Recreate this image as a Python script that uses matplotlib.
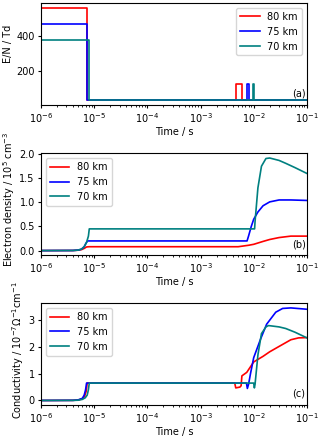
import matplotlib
matplotlib.use("Agg")
import matplotlib.pyplot as plt

plt.rcParams["font.size"] = 7
plt.rcParams["xtick.major.size"] = 2.5
plt.rcParams["ytick.major.size"] = 2.5
plt.rcParams["xtick.minor.size"] = 1.5
plt.rcParams["xtick.major.pad"] = 2
plt.rcParams["ytick.major.pad"] = 2

labels = ["80 km", "75 km", "70 km"]
colors = ["red", "blue", "teal"]

# (a) reduced field E/N, Td
en_t = [
    [1e-6, 7.4e-6, 7.4e-6, 4.6e-3, 4.6e-3, 6.0e-3, 6.0e-3, 1e-1],
    [1e-6, 7.2e-6, 7.2e-6, 7.35e-3, 7.35e-3, 8.2e-3, 8.2e-3, 1e-1],
    [1e-6, 8.0e-6, 8.0e-6, 9.9e-3, 9.9e-3, 1.03e-2, 1.03e-2, 1e-1],
]
en_v = [
    [562, 562, 31, 31, 122, 122, 31, 31],
    [467, 467, 31, 31, 122, 122, 31, 31],
    [374, 374, 31, 31, 122, 122, 31, 31],
]

# (b) electron density, 1e5 cm^-3
ne_t = [
    [1e-6, 4e-6, 5e-6, 5.8e-6, 6.5e-6, 7.2e-6, 8e-6, 5.1e-3, 8e-3, 1e-2,
     1.5e-2, 2e-2, 3e-2, 5e-2, 1e-1],
    [1e-6, 4e-6, 5e-6, 5.8e-6, 6.5e-6, 7e-6, 7.5e-6, 7.5e-3, 8e-3, 9e-3,
     1e-2, 1.2e-2, 1.5e-2, 2e-2, 3e-2, 5e-2, 1e-1],
    [1e-6, 4e-6, 5e-6, 5.8e-6, 6.5e-6, 7.2e-6, 7.8e-6, 8.1e-6, 1.04e-2,
     1.06e-2, 1.2e-2, 1.4e-2, 1.7e-2, 2e-2, 3e-2, 4e-2, 6e-2, 1e-1],
]
ne_v = [
    [0, 0.002, 0.008, 0.02, 0.045, 0.075, 0.08, 0.08, 0.11, 0.13,
     0.19, 0.23, 0.27, 0.3, 0.3],
    [0, 0.002, 0.01, 0.03, 0.08, 0.15, 0.2, 0.2, 0.3, 0.5,
     0.65, 0.8, 0.93, 1.01, 1.05, 1.05, 1.04],
    [0, 0.002, 0.01, 0.03, 0.08, 0.17, 0.3, 0.45, 0.45,
     0.6, 1.3, 1.75, 1.91, 1.92, 1.87, 1.81, 1.72, 1.6],
]

# (c) conductivity, 1e-7 Ohm^-1 cm^-1
sg_t = [
    [1e-6, 4e-6, 5e-6, 6e-6, 6.6e-6, 7.1e-6, 7.4e-6, 4.4e-3, 4.6e-3, 5.5e-3,
     5.8e-3, 6.0e-3, 7.4e-3, 1e-2, 1.5e-2, 2e-2, 3e-2, 5e-2, 7e-2, 1e-1],
    [1e-6, 4e-6, 5e-6, 6e-6, 6.5e-6, 6.9e-6, 7.2e-6, 7.3e-3, 7.6e-3, 8.0e-3,
     8.7e-3, 1e-2, 1.35e-2, 1.75e-2, 2.6e-2, 3.5e-2, 5e-2, 1e-1],
    [1e-6, 4e-6, 5e-6, 6e-6, 6.8e-6, 7.4e-6, 7.8e-6, 8.1e-6, 1.0e-2, 1.03e-2,
     1.06e-2, 1.2e-2, 1.4e-2, 1.7e-2, 1.9e-2, 3e-2, 4e-2, 6e-2, 1e-1],
]
sg_v = [
    [0, 0.005, 0.02, 0.06, 0.15, 0.35, 0.65, 0.65, 0.47, 0.5,
     0.55, 0.92, 1.05, 1.44, 1.65, 1.82, 2.02, 2.27, 2.34, 2.35],
    [0, 0.005, 0.02, 0.08, 0.2, 0.4, 0.65, 0.65, 0.45, 0.6,
     1.0, 1.6, 2.3, 2.85, 3.3, 3.44, 3.46, 3.41],
    [0, 0.003, 0.01, 0.04, 0.1, 0.2, 0.4, 0.65, 0.65, 0.47,
     0.6, 1.7, 2.5, 2.75, 2.8, 2.75, 2.69, 2.55, 2.34],
]

panels = [
    (en_t, en_v, "E/N / Td", "(a)", "upper right", 0.6),
    (ne_t, ne_v, r"Electron density / $10^5$ cm$^{-3}$", "(b)", "upper left", 0.55),
    (sg_t, sg_v, r"Conductivity / $10^{-7}\Omega^{-1}$cm$^{-1}$", "(c)", "upper left", 0.54),
]

fig = plt.figure(figsize=(3.2, 4.37), dpi=100)
bottoms = [0.760, 0.416, 0.073]
for (ts, vs, ylab, tag, loc, ly), b in zip(panels, bottoms):
    ax = fig.add_axes([0.128, b, 0.831, 0.233])
    for t, v, lab, c in zip(ts, vs, labels, colors):
        ax.plot(t, v, color=c, lw=1.2, label=lab)
    ax.set_xscale("log")
    ax.set_xlim(1e-6, 1e-1)
    ax.set_xlabel("Time / s", labelpad=1.5)
    ax.set_ylabel(ylab, labelpad=2, y=ly)
    ax.legend(loc=loc)
    ax.text(0.995, 0.06, tag, transform=ax.transAxes, ha="right", va="bottom")

fig.savefig("out.png", dpi=100)
